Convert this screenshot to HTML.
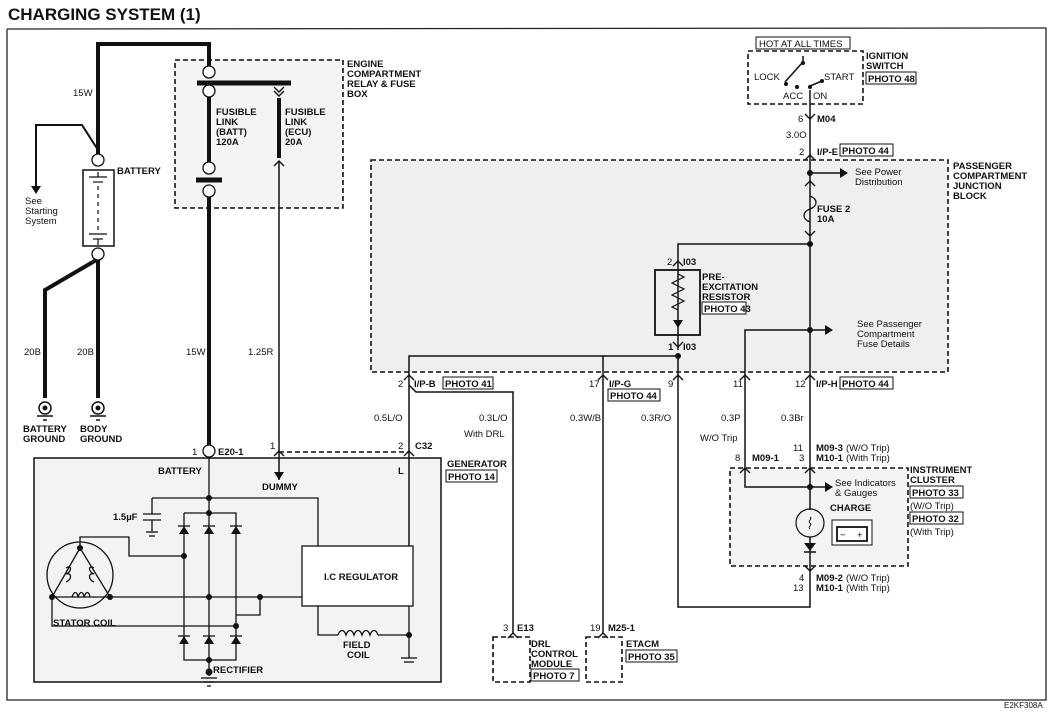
<!DOCTYPE html>
<html><head><meta charset="utf-8"><style>
html,body{margin:0;padding:0;background:#fff;}
svg{display:block;}
text{font-family:"Liberation Sans",sans-serif;font-size:9.5px;fill:#111;}
.b{font-weight:bold;}
</style></head><body>
<svg width="1059" height="714" viewBox="0 0 1059 714" xmlns="http://www.w3.org/2000/svg">
<rect width="1059" height="714" fill="#fff"/>
<text x="8" y="20" class="b" style="font-size:17px">CHARGING SYSTEM (1)</text>
<!-- frame -->
<polyline points="7,29 1046,28 1046,700 7,700 7,29" fill="none" stroke="#222" stroke-width="1.3"/>

<!-- shaded areas -->
<rect x="175" y="60" width="168" height="148" fill="#f4f4f4"/>
<rect x="371" y="160" width="577" height="212" fill="#efefef"/>
<rect x="34" y="458" width="407" height="224" fill="#f3f3f3" stroke="#111" stroke-width="1.5"/>
<rect x="730" y="468" width="178" height="98" fill="#f3f3f3"/>

<g fill="none" stroke="#111" stroke-width="1.6" stroke-dasharray="5,3">
<rect x="175" y="60" width="168" height="148"/>
<rect x="371" y="160" width="577" height="212"/>
<rect x="748" y="51" width="115" height="53"/>
<rect x="730" y="468" width="178" height="98"/>
<rect x="493" y="637" width="37" height="45"/>
<rect x="586" y="637" width="36" height="45"/>
<line x1="279" y1="452" x2="409" y2="452"/>
</g>

<!-- thick wires -->
<g fill="none" stroke="#111" stroke-width="4">
<polyline points="98,154 98,44 209,44 209,66"/>
<polyline points="98,259 45,290 45,398"/>
<line x1="98" y1="259" x2="98" y2="398"/>
<line x1="209" y1="97" x2="209" y2="162"/>
<line x1="209" y1="196" x2="209" y2="445"/>
<line x1="279" y1="98" x2="279" y2="158"/>
<line x1="197" y1="83" x2="291" y2="83" stroke-width="5"/>
<line x1="196" y1="180" x2="222" y2="180" stroke-width="5"/>
</g>
<g fill="#fff" stroke="#111" stroke-width="1.3">
<circle cx="209" cy="72" r="6"/><circle cx="209" cy="91" r="6"/>
<circle cx="209" cy="168" r="6"/><circle cx="209" cy="191" r="6"/>
<circle cx="98" cy="160" r="6"/><circle cx="98" cy="254" r="6"/>
<circle cx="209" cy="451" r="6"/>
</g>
<!-- battery -->
<rect x="83" y="170" width="31" height="76" fill="#fff" stroke="#111" stroke-width="1.5"/>
<g stroke="#111" stroke-width="1.2" fill="none">
<line x1="89" y1="177" x2="107" y2="177"/><line x1="93" y1="182" x2="103" y2="182"/>
<line x1="98" y1="177" x2="98" y2="172"/>
<line x1="98" y1="186" x2="98" y2="232" stroke-dasharray="4,4"/>
<line x1="89" y1="234" x2="107" y2="234"/><line x1="93" y1="239" x2="103" y2="239"/>
<line x1="98" y1="239" x2="98" y2="245"/>
<polyline points="98,150 82,125 36,125 36,186" stroke-width="2"/>
</g>
<polygon points="31,186 41,186 36,194" fill="#111"/>
<text x="25" y="204">See</text><text x="25" y="214">Starting</text><text x="25" y="224">System</text>
<text x="117" y="174" class="b">BATTERY</text>
<text x="73" y="96">15W</text>
<text x="24" y="355">20B</text><text x="77" y="355">20B</text>
<!-- grounds -->
<g stroke="#111" fill="none" stroke-width="1.5">
<circle cx="45" cy="408" r="6"/><circle cx="98" cy="408" r="6"/>
<line x1="37" y1="416" x2="53" y2="416"/><line x1="90" y1="416" x2="106" y2="416"/>
<line x1="43" y1="420" x2="47" y2="420"/><line x1="96" y1="420" x2="100" y2="420"/>
</g>
<circle cx="45" cy="408" r="2.5" fill="#111"/><circle cx="98" cy="408" r="2.5" fill="#111"/>
<text x="23" y="432" class="b">BATTERY</text><text x="23" y="442" class="b">GROUND</text>
<text x="80" y="432" class="b">BODY</text><text x="80" y="442" class="b">GROUND</text>

<text x="347" y="67" class="b">ENGINE</text><text x="347" y="77" class="b">COMPARTMENT</text>
<text x="347" y="87" class="b">RELAY &amp; FUSE</text><text x="347" y="97" class="b">BOX</text>
<text x="216" y="115" class="b">FUSIBLE</text><text x="216" y="125" class="b">LINK</text>
<text x="216" y="135" class="b">(BATT)</text><text x="216" y="145" class="b">120A</text>
<text x="285" y="115" class="b">FUSIBLE</text><text x="285" y="125" class="b">LINK</text>
<text x="285" y="135" class="b">(ECU)</text><text x="285" y="145" class="b">20A</text>
<text x="186" y="355">15W</text><text x="248" y="355">1.25R</text>

<!-- thin wires -->
<g fill="none" stroke="#111" stroke-width="1.5">
<line x1="279" y1="162" x2="279" y2="480"/>
<line x1="810" y1="90" x2="810" y2="330"/>
<polyline points="810,244 678,244 678,262"/>
<line x1="678" y1="262" x2="678" y2="350"/>
<polyline points="678,356 409,356 409,546"/>
<line x1="603" y1="356" x2="603" y2="634"/>
<polyline points="678,356 678,607 810,607 810,566"/>
<polyline points="409,385 416,392 513,392 513,634"/>
<line x1="810" y1="330" x2="810" y2="510"/>
<line x1="810" y1="537" x2="810" y2="566"/>
<polyline points="810,330 745,330 745,487 810,487"/>
<line x1="810" y1="173" x2="840" y2="173"/>
<line x1="810" y1="330" x2="825" y2="330"/>
<line x1="810" y1="487" x2="825" y2="487"/>
<!-- ignition switch -->
<polyline points="803,56 803,63" /><line x1="802" y1="63" x2="785" y2="82"/>
<line x1="810" y1="86" x2="822" y2="81"/>
</g>
<g fill="#111">
<circle cx="810" cy="173" r="3"/><circle cx="810" cy="244" r="3"/><circle cx="810" cy="330" r="3"/>
<circle cx="678" cy="356" r="3"/><circle cx="810" cy="487" r="3"/>
<circle cx="803" cy="63" r="2"/><circle cx="786" cy="84" r="2"/><circle cx="797" cy="87" r="2"/><circle cx="810" cy="87" r="2"/><circle cx="822" cy="81" r="2"/>
<polygon points="840,168 848,173 840,178"/><polygon points="825,325 833,330 825,335"/><polygon points="825,482 833,487 825,492"/>
<polygon points="274,472 284,472 279,480"/>
</g>
<!-- connectors chevrons -->
<g fill="none" stroke="#111" stroke-width="1.4">
<path d="M274,87 L279,92 L284,87 M274,91 L279,96 L284,91"/>
<path d="M274,166 L279,161 L284,166"/>
<path d="M805,114 L810,119 L815,114"/>
<path d="M805,160 L810,155 L815,160"/>
<path d="M805,186 L810,181 L815,186 M805,231 L810,236 L815,231"/>
<path d="M673,266 L678,261 L683,266 M673,342 L678,347 L683,342"/>
<path d="M404,380 L409,375 L414,380"/>
<path d="M598,380 L603,375 L608,380"/>
<path d="M673,380 L678,375 L683,380"/>
<path d="M740,380 L745,375 L750,380"/>
<path d="M805,380 L810,375 L815,380"/>
<path d="M404,456 L409,451 L414,456"/>
<path d="M274,456 L279,451 L284,456"/>
<path d="M740,473 L745,468 L750,473"/>
<path d="M805,473 L810,468 L815,473"/>
<path d="M805,566 L810,571 L815,566"/>
<path d="M508,638 L513,633 L518,638"/>
<path d="M598,638 L603,633 L608,638"/>
<path d="M810,196 C818,199 818,206 810,209 C802,212 802,219 810,222" stroke-width="1.3"/>
<path d="M678,274 l6,3 l-12,6 l12,6 l-12,6 l12,6 l-12,6 l6,3" stroke-width="1.2"/>
</g>
<rect x="655" y="270" width="45" height="65" fill="none" stroke="#111" stroke-width="1.8"/>
<polygon points="673,320 683,320 678,328" fill="#111"/>
<rect x="756" y="37" width="94" height="12" fill="#fff" stroke="#111"/>
<text x="759" y="47">HOT AT ALL TIMES</text>
<text x="754" y="80">LOCK</text><text x="824" y="80">START</text>
<text x="783" y="99">ACC</text><text x="813" y="99">ON</text>
<text x="866" y="59" class="b">IGNITION</text><text x="866" y="69" class="b">SWITCH</text>
<rect x="866" y="72" width="50" height="12" fill="#fff" stroke="#111"/><text x="868" y="82" class="b">PHOTO 48</text>
<text x="798" y="122">6</text><text x="817" y="122" class="b">M04</text>
<text x="786" y="138">3.0O</text>
<text x="799" y="155">2</text><text x="817" y="155" class="b">I/P-E</text>
<rect x="840" y="144" width="53" height="12" fill="#fff" stroke="#111"/><text x="842" y="154" class="b">PHOTO 44</text>
<text x="855" y="175">See Power</text><text x="855" y="185">Distribution</text>
<text x="817" y="212" class="b">FUSE 2</text><text x="817" y="222" class="b">10A</text>
<text x="953" y="169" class="b">PASSENGER</text><text x="953" y="179" class="b">COMPARTMENT</text>
<text x="953" y="189" class="b">JUNCTION</text><text x="953" y="199" class="b">BLOCK</text>
<text x="667" y="265">2</text><text x="683" y="265" class="b">I03</text>
<text x="702" y="280" class="b">PRE-</text><text x="702" y="290" class="b">EXCITATION</text><text x="702" y="300" class="b">RESISTOR</text>
<rect x="702" y="302" width="44" height="12" fill="#fff" stroke="#111"/><text x="704" y="312" class="b">PHOTO 43</text>
<text x="668" y="350" class="b">1</text><text x="683" y="350" class="b">I03</text>
<text x="857" y="327">See Passenger</text><text x="857" y="337">Compartment</text><text x="857" y="347">Fuse Details</text>

<text x="398" y="387">2</text><text x="414" y="387" class="b">I/P-B</text>
<rect x="443" y="377" width="50" height="12" fill="#fff" stroke="#111"/><text x="445" y="387" class="b">PHOTO 41</text>
<text x="589" y="387">17</text><text x="609" y="387" class="b">I/P-G</text>
<rect x="608" y="389" width="52" height="12" fill="#fff" stroke="#111"/><text x="610" y="399" class="b">PHOTO 44</text>
<text x="668" y="387">9</text><text x="733" y="387">11</text>
<text x="795" y="387">12</text><text x="816" y="387" class="b">I/P-H</text>
<rect x="840" y="377" width="53" height="12" fill="#fff" stroke="#111"/><text x="842" y="387" class="b">PHOTO 44</text>
<text x="374" y="421">0.5L/O</text><text x="479" y="421">0.3L/O</text><text x="464" y="437">With DRL</text>
<text x="570" y="421">0.3W/B</text><text x="641" y="421">0.3R/O</text>
<text x="721" y="421">0.3P</text><text x="781" y="421">0.3Br</text>
<text x="700" y="441">W/O Trip</text>
<text x="793" y="451">11</text><text x="816" y="451" class="b">M09-3</text><text x="846" y="451">(W/O Trip)</text>
<text x="799" y="461">3</text><text x="816" y="461" class="b">M10-1</text><text x="846" y="461">(With Trip)</text>
<text x="735" y="461">8</text><text x="752" y="461" class="b">M09-1</text>
<text x="910" y="473" class="b">INSTRUMENT</text><text x="910" y="483" class="b">CLUSTER</text>
<rect x="910" y="486" width="53" height="12" fill="#fff" stroke="#111"/><text x="912" y="496" class="b">PHOTO 33</text>
<text x="910" y="509">(W/O Trip)</text>
<rect x="910" y="512" width="53" height="12" fill="#fff" stroke="#111"/><text x="912" y="522" class="b">PHOTO 32</text>
<text x="910" y="535">(With Trip)</text>
<text x="835" y="486">See Indicators</text><text x="835" y="496">&amp; Gauges</text>
<text x="830" y="511" class="b">CHARGE</text>
<circle cx="810" cy="523" r="14" fill="none" stroke="#111" stroke-width="1.2"/>
<path d="M810,517 c3,2 -3,4 0,6 c3,2 -3,4 0,6" fill="none" stroke="#111"/>
<polygon points="804,543 816,543 810,551" fill="#111"/><line x1="804" y1="552" x2="816" y2="552" stroke="#111" stroke-width="1.5"/>
<rect x="832" y="520" width="40" height="25" fill="#fff" stroke="#111"/>
<rect x="837" y="527" width="30" height="14" fill="none" stroke="#111" stroke-width="1.8"/>
<text x="840" y="538">−</text><text x="857" y="538">+</text>
<text x="799" y="581">4</text><text x="816" y="581" class="b">M09-2</text><text x="846" y="581">(W/O Trip)</text>
<text x="793" y="591">13</text><text x="816" y="591" class="b">M10-1</text><text x="846" y="591">(With Trip)</text>
<text x="503" y="631">3</text><text x="517" y="631" class="b">E13</text>
<text x="531" y="647" class="b">DRL</text><text x="531" y="657" class="b">CONTROL</text><text x="531" y="667" class="b">MODULE</text>
<rect x="531" y="669" width="48" height="12" fill="#fff" stroke="#111"/><text x="533" y="679" class="b">PHOTO 7</text>
<text x="590" y="631">19</text><text x="608" y="631" class="b">M25-1</text>
<text x="626" y="647" class="b">ETACM</text>
<rect x="626" y="650" width="51" height="12" fill="#fff" stroke="#111"/><text x="628" y="660" class="b">PHOTO 35</text>
<text x="1004" y="708" style="font-size:8px">E2KF308A</text>

<!-- generator -->
<text x="192" y="455">1</text><text x="218" y="455" class="b">E20-1</text>
<text x="270" y="449">1</text><text x="398" y="449">2</text><text x="415" y="449" class="b">C32</text>
<text x="447" y="467" class="b">GENERATOR</text>
<rect x="446" y="470" width="51" height="12" fill="#fff" stroke="#111"/><text x="448" y="480" class="b">PHOTO 14</text>
<text x="158" y="474" class="b">BATTERY</text><text x="262" y="490" class="b">DUMMY</text><text x="398" y="474" class="b">L</text>
<g fill="none" stroke="#111" stroke-width="1.3">
<line x1="209" y1="457" x2="209" y2="676"/>
<polyline points="152,498 318,498 318,546"/>
<polyline points="152,498 152,514"/>
<line x1="143" y1="514" x2="161" y2="514"/><line x1="143" y1="520" x2="161" y2="520"/>
<line x1="152" y1="520" x2="152" y2="532"/><line x1="146" y1="532" x2="158" y2="532"/><line x1="149" y1="536" x2="155" y2="536"/>
<polyline points="184,513 236,513 236,660 184,660 184,513"/>
<circle cx="80" cy="575" r="33"/>
<polygon points="80,548 52,597 110,597"/>
<polyline points="80,548 80,537 129,537 129,556 184,556"/>
<line x1="110" y1="597" x2="302" y2="597"/>
<polyline points="52,597 52,626 236,626"/>
<polyline points="260,597 260,615 236,615"/>
<rect x="302" y="546" width="111" height="60" fill="#fff"/>
<polyline points="318,606 318,635 338,635"/>
<path d="M338,635 c2,-6 6,-6 8,0 c2,-6 6,-6 8,0 c2,-6 6,-6 8,0 c2,-6 6,-6 8,0 c2,-6 6,-6 8,0"/>
<line x1="378" y1="635" x2="409" y2="635"/>
<line x1="409" y1="606" x2="409" y2="658"/>
<line x1="401" y1="658" x2="417" y2="658"/><line x1="404" y1="662" x2="414" y2="662"/>
<line x1="201" y1="678" x2="217" y2="678"/><line x1="204" y1="682" x2="214" y2="682"/><line x1="207" y1="686" x2="211" y2="686"/>
<path d="M66,568 c6,-4 6,4 0,6 c6,-2 6,6 0,8 M94,568 c-6,-4 -6,4 0,6 c-6,-2 -6,6 0,8 M72,597 c2,-6 5,-6 6,0 c2,-6 5,-6 6,0 c2,-6 5,-6 6,0"/>
</g>
<g fill="#111">
<polygon points="179,534 189,534 184,526"/><polygon points="204,534 214,534 209,526"/><polygon points="231,534 241,534 236,526"/>
<polygon points="179,644 189,644 184,636"/><polygon points="204,644 214,644 209,636"/><polygon points="231,644 241,644 236,636"/>
<circle cx="209" cy="498" r="3"/><circle cx="209" cy="513" r="3"/><circle cx="184" cy="556" r="3"/>
<circle cx="209" cy="597" r="3"/><circle cx="260" cy="597" r="3"/><circle cx="236" cy="626" r="3"/>
<circle cx="209" cy="660" r="3"/><circle cx="209" cy="672" r="3.5"/><circle cx="409" cy="635" r="3"/>
<circle cx="80" cy="548" r="3"/><circle cx="52" cy="597" r="3"/><circle cx="110" cy="597" r="3"/>
</g>
<g stroke="#111" stroke-width="1.3"><line x1="178" y1="526" x2="190" y2="526"/><line x1="203" y1="526" x2="215" y2="526"/><line x1="230" y1="526" x2="242" y2="526"/>
<line x1="178" y1="636" x2="190" y2="636"/><line x1="203" y1="636" x2="215" y2="636"/><line x1="230" y1="636" x2="242" y2="636"/></g>
<text x="113" y="520" class="b">1.5µF</text>
<text x="53" y="626" class="b">STATOR COIL</text>
<text x="324" y="580" class="b">I.C REGULATOR</text>
<text x="213" y="673" class="b">RECTIFIER</text>
<text x="343" y="648" class="b">FIELD</text><text x="347" y="658" class="b">COIL</text>
</svg>
</body></html>
